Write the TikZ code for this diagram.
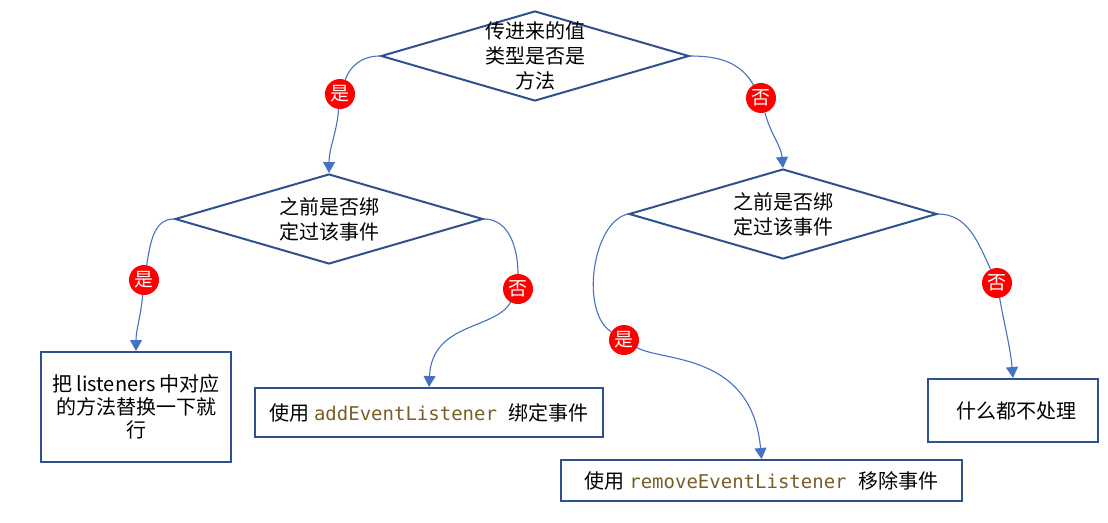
\documentclass[tikz,border=0pt]{standalone}
\usepackage{fontspec}
\setmainfont{Noto Sans CJK SC}
\setmonofont{DejaVu Sans Mono}
\usepackage{tikz}
\usetikzlibrary{shapes.geometric, arrows.meta}
\definecolor{shapeLine}{RGB}{47, 82, 143}
\definecolor{linkLine}{RGB}{68, 114, 196}
\definecolor{answerFill}{RGB}{255, 0, 0}
\definecolor{codeColor}{RGB}{121, 94, 38}
\newcommand{\code}[1]{\textcolor{codeColor}{\fontsize{19}{23}\selectfont\ttfamily #1}}
\tikzset{
    decision_node/.style={
        diamond,
        draw=shapeLine,
        line width=2pt,
        minimum width=308pt,
        minimum height=90pt,
        inner sep=0pt
    },
    decision_text/.style={
        align=center,
        font=\fontsize{20}{25}\selectfont
    },
    action_node/.style={
        rectangle,
        draw=shapeLine,
        line width=2pt,
        align=center,
        inner sep=0pt,
        font=\fontsize{20}{23}\selectfont
    },
    answer_dot/.style={
        circle,
        fill=answerFill,
        text=white,
        minimum size=30pt,
        inner sep=0pt,
        font=\fontsize{19}{19}\selectfont
    },
    flow_edge/.style={
        -{Triangle[width=12pt,length=11pt]},
        draw=linkLine,
        line width=1.1pt
    }
}

\begin{document}
\begin{tikzpicture}[x=1pt, y=-1pt]
    \useasboundingbox (0,0) rectangle (1108,522);

    \node[decision_node, label={[decision_text]center:传进来的值\\类型是否是\\方法}] (isfunc) at (535,56) {};
    \node[decision_node, label={[decision_text]center:之前是否绑\\定过该事件}] (boundyes) at (329,219) {};
    \node[decision_node, label={[decision_text]center:之前是否绑\\定过该事件}] (boundno) at (783,214) {};

    \node[action_node, minimum width=190pt, minimum height=110pt] (replace) at (136,407)
        {把 listeners 中对应\\的方法替换一下就\\行};
    \node[action_node, minimum width=348pt, minimum height=49pt] (add) at (429,412.5)
        {使用 \code{addEventListener\ }绑定事件};
    \node[action_node, minimum width=401pt, minimum height=41pt] (remove) at (761.5,480.5)
        {使用 \code{removeEventListener\ }移除事件};
    \node[action_node, minimum width=170pt, minimum height=63pt] (nothing) at (1013,410.5)
        {\hspace*{6pt}什么都不处理};

    \node[answer_dot] (yes1) at (340,94) {是};
    \node[answer_dot] (no1) at (761,98) {否};
    \node[answer_dot] (yes2) at (144,280) {是};
    \node[answer_dot] (no2) at (518,289) {否};
    \node[answer_dot] (yes3) at (624,340) {是};
    \node[answer_dot] (no3) at (997,283) {否};

    \draw[flow_edge] (isfunc.west) to[out=180,in=70] (yes1) to[out=-95,in=90] (boundyes.north);
    \draw[flow_edge] (isfunc.east) to[out=0,in=120] (no1) to[out=-75,in=95] (boundno.north);
    \draw[flow_edge] (boundyes.west) to[out=180,in=80] (yes2) to[out=-95,in=90] (replace.north);
    \draw[flow_edge] (boundyes.east) to[out=0,in=90] (no2)
        .. controls (495,330) and (432,322) .. (add.north);
    \draw[flow_edge] (boundno.west) .. controls (592,222) and (580,312) .. (yes3)
        .. controls (662,362) and (752,352) .. (remove.north);
    \draw[flow_edge] (boundno.east) to[out=0,in=115] (no3) to[out=-80,in=95] (nothing.north);
\end{tikzpicture}
\end{document}
